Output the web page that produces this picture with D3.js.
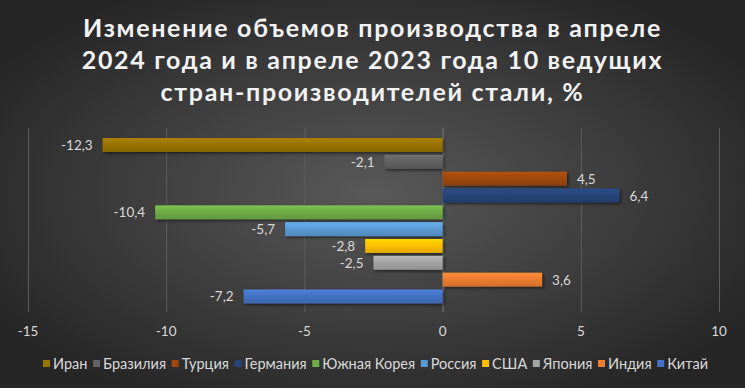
<!DOCTYPE html>
<html>
<head>
<meta charset="utf-8">
<script src="https://cdn.jsdelivr.net/npm/d3@7"></script>
<style>
html,body{margin:0;padding:0;background:#3a3a3a;}
svg{display:block;}
</style>
</head>
<body>
<svg id="chart" width="745" height="388"></svg>
<script>
// data, top to bottom as drawn
var countries = ["Иран","Бразилия","Турция","Германия","Южная Корея","Россия","США","Япония","Индия","Китай"];
var changes = [-12.3,-2.1,4.5,6.4,-10.4,-5.7,-2.8,-2.5,3.6,-7.2];
var barColors = ["#997300","#636363","#9e480e","#264478","#70ad47","#5b9bd5","#ffc000","#a5a5a5","#ed7d31","#4472c4"];
var xTicks = [-15,-10,-5,0,5,10];
var titleLines = ["Изменение объемов производства в апреле","2024 года и в апреле 2023 года 10 ведущих","стран-производителей стали, %"];

var W = 745, H = 388;
var plotTop = 128, plotBottom = 312;
var font = "Lato, 'Open Sans', sans-serif";
var svg = d3.select("#chart");
var defs = svg.append("defs");

var bg = defs.append("radialGradient").attr("id","bg").attr("cx","50%").attr("cy","50%").attr("r","60%");
bg.append("stop").attr("offset","0%").attr("stop-color","#595959");
bg.append("stop").attr("offset","100%").attr("stop-color","#262626");
svg.append("rect").attr("width",W).attr("height",H).attr("fill","url(#bg)");

var sh = defs.append("filter").attr("id","shadow").attr("x","-10%").attr("y","-50%").attr("width","120%").attr("height","200%");
sh.append("feDropShadow").attr("dx",1.5).attr("dy",1.5).attr("stdDeviation",1.5).attr("flood-color","#000").attr("flood-opacity",0.55);

barColors.forEach(function(c,i){
  var g = defs.append("linearGradient").attr("id","bar"+i).attr("x1",0).attr("x2",0).attr("y1",0).attr("y2",1);
  g.append("stop").attr("offset","0%").attr("stop-color",d3.color(c).brighter(0.35));
  g.append("stop").attr("offset","45%").attr("stop-color",c);
  g.append("stop").attr("offset","100%").attr("stop-color",d3.color(c).darker(0.35));
});

var x = d3.scaleLinear().domain([-15,10]).range([28,719]);
var y = d3.scaleBand().domain(countries).range([136.6,304.9]).paddingInner(0.17).paddingOuter(0.085);

// title: 25px with letter spacing so the first line spans about 579px
var title = svg.append("g").selectAll("text").data(titleLines).enter().append("text")
  .attr("x",372.5).attr("y",function(d,i){return 37+i*32;})
  .attr("text-anchor","middle").attr("fill","#f2f2f2")
  .attr("font-family",font).attr("font-weight","bold").attr("font-size","25px")
  .text(function(d){return d;});
var tw = title.nodes()[0].getComputedTextLength();
var ls = Math.max(0, (579 - tw)/titleLines[0].length);
title.attr("letter-spacing",ls+"px");

// gridlines
svg.append("g").selectAll("line").data(xTicks).enter().append("line")
  .attr("x1",function(d){return x(d)+0.5;}).attr("x2",function(d){return x(d)+0.5;})
  .attr("y1",plotTop).attr("y2",plotBottom)
  .attr("stroke",function(d){return d===0?"#7a7a7a":"#5c5c5c";}).attr("stroke-width",1);

// tick labels
svg.append("g").selectAll("text").data(xTicks).enter().append("text")
  .attr("x",function(d){return x(d);}).attr("y",336)
  .attr("text-anchor","middle").attr("fill","#d9d9d9")
  .attr("font-family",font).attr("font-size","13.5px")
  .text(function(d){return d;});

// bars
svg.append("g").selectAll("rect").data(changes).enter().append("rect")
  .attr("x",function(d){return x(Math.min(0,d));})
  .attr("width",function(d){return Math.abs(x(d)-x(0));})
  .attr("y",function(d,i){return y(countries[i]);})
  .attr("height",y.bandwidth())
  .attr("fill",function(d,i){return "url(#bar"+i+")";})
  .attr("filter","url(#shadow)");

// value labels
var fmt = function(v){return String(v).replace(".",",");};
svg.append("g").selectAll("text").data(changes).enter().append("text")
  .attr("x",function(d){return d<0?x(d)-10:x(d)+10;})
  .attr("y",function(d,i){return y(countries[i])+y.bandwidth()/2+5;})
  .attr("text-anchor",function(d){return d<0?"end":"start";})
  .attr("fill","#d9d9d9").attr("font-family",font).attr("font-size","13.5px")
  .text(function(d){return fmt(d);});

// legend, spread over 43..708
var leg = svg.append("g").attr("transform","translate(43,369)");
var items = [];
var total = 0;
countries.forEach(function(c,i){
  var item = leg.append("g");
  item.append("rect").attr("x",0).attr("y",-9).attr("width",7).attr("height",7).attr("fill",barColors[i]);
  var t = item.append("text").attr("x",10).attr("y",0).attr("fill","#d9d9d9")
    .attr("font-family",font).attr("font-size","14.5px").text(c);
  var w = 10 + t.node().getComputedTextLength();
  items.push({g:item,w:w});
  total += w;
});
var gap = (665 - total)/(countries.length-1);
var lx = 0;
items.forEach(function(it){
  it.g.attr("transform","translate("+lx+",0)");
  lx += it.w + gap;
});
</script>
</body>
</html>
